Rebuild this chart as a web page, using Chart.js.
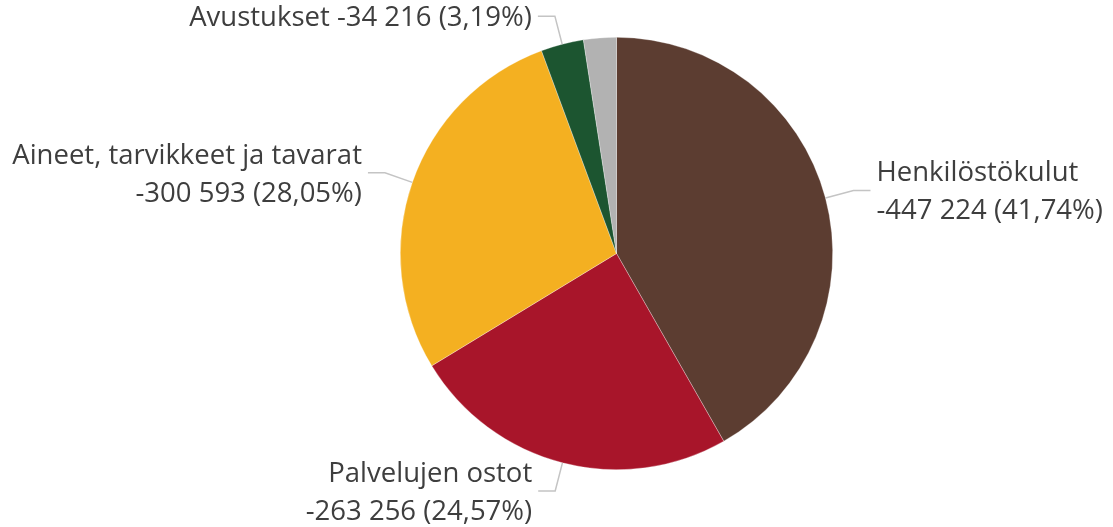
<!DOCTYPE html>
<html>
<head>
<meta charset="utf-8">
<script src="https://cdn.jsdelivr.net/npm/chart.js@4"></script>
<style>
  body { margin: 0; background: #fff; }
  #wrap { width: 1113px; height: 527px; }
</style>
</head>
<body>
<div id="wrap"><canvas id="kulut" width="1113" height="527"></canvas></div>
<script>
// Kululajit (euroa)
const categories = ['Henkilöstökulut', 'Palvelujen ostot', 'Aineet, tarvikkeet ja tavarat', 'Avustukset', 'Muut kulut'];
const values = [-447224, -263256, -300593, -34216, -26211];
const colors = ['#5C3D31', '#A8152A', '#F4B021', '#1C5530', '#B2B2B2'];

function fmtNum(v) {
    const s = Math.abs(Math.round(v)).toString().replace(/\B(?=(\d{3})+(?!\d))/g, ' ');
    return (v < 0 ? '-' : '') + s;
}

function fmtPct(p) {
    return p.toFixed(2).replace('.', ',') + '%';
}

// piirtää selitteet viivoineen sektorien viereen
const sliceLabels = {
    id: 'sliceLabels',
    afterDraw(chart) {
        const ctx = chart.ctx;
        const meta = chart.getDatasetMeta(0);
        const data = chart.data.datasets[0].data;
        const total = data.reduce((a, b) => a + Math.abs(b), 0);
        const fs = 27.5, lh = 38;
        ctx.save();
        ctx.font = fs + 'px "Open Sans", "Segoe UI", sans-serif';
        meta.data.forEach((arc, i) => {
            const pct = Math.abs(data[i]) / total * 100;
            if (pct < 3) return; // pienet jätetään ilman selitettä
            const mid = (arc.startAngle + arc.endAngle) / 2;
            const r = arc.outerRadius;
            const cx = arc.x, cy = arc.y;
            const ax = cx + Math.cos(mid) * r, ay = cy + Math.sin(mid) * r;
            const ex = cx + Math.cos(mid) * (r + 29), ey = cy + Math.sin(mid) * (r + 29);
            const side = ex < cx ? -1 : 1;
            const hx = ex + side * 17;

            ctx.strokeStyle = '#C4C4C4';
            ctx.lineWidth = 1.5;
            ctx.beginPath();
            ctx.moveTo(ax, ay);
            ctx.lineTo(ex, ey);
            ctx.lineTo(hx, ey);
            ctx.stroke();

            const name = chart.data.labels[i];
            const val = fmtNum(data[i]) + ' (' + fmtPct(pct) + ')';
            const lines = ey < 40 ? [name + ' ' + val] : [name, val];
            ctx.fillStyle = '#3E3E3E';
            ctx.textAlign = side < 0 ? 'right' : 'left';
            ctx.textBaseline = 'alphabetic';
            const tx = hx + side * 6;
            lines.forEach((ln, k) => {
                const by = ey + (k - (lines.length - 1) / 2) * lh + fs * 0.36;
                ctx.fillText(ln, tx, by);
            });
        });
        ctx.restore();
    }
};

new Chart(document.getElementById('kulut'), {
    type: 'pie',
    data: {
        labels: categories,
        datasets: [{
            data: values,
            backgroundColor: colors,
            borderColor: 'rgba(255,255,255,0.5)',
            borderWidth: 0.6
        }]
    },
    options: {
        responsive: false,
        animation: false,
        layout: { padding: { top: 37, bottom: 57, left: 400, right: 280 } },
        plugins: {
            legend: { display: false },
            tooltip: { enabled: false }
        }
    },
    plugins: [sliceLabels]
});
</script>
</body>
</html>
